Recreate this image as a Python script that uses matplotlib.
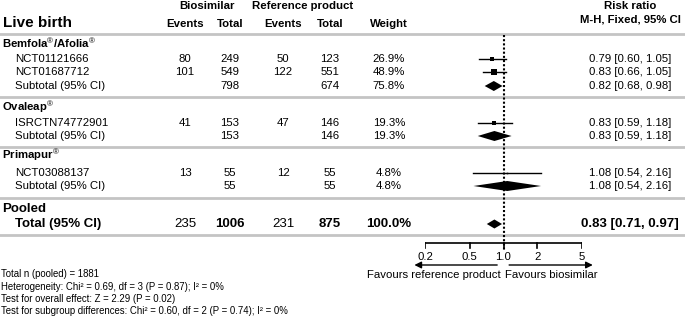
import matplotlib.pyplot as plt

plt.rcParams['font.family'] = ['Liberation Sans', 'DejaVu Sans']
plt.rcParams['mathtext.fontset'] = 'custom'
plt.rcParams['mathtext.rm'] = 'Liberation Sans'
plt.rcParams['mathtext.bf'] = 'Liberation Sans:bold'

# study level data
groups = ['Bemfola$^{®}$/Afolia$^{®}$', 'Ovaleap$^{®}$', 'Primapur$^{®}$']
studies = ['NCT01121666', 'NCT01687712', 'ISRCTN74772901', 'NCT03088137']
bio_events = [80, 101, 41, 13]
bio_total = [249, 549, 153, 55]
ref_events = [50, 122, 47, 12]
ref_total = [123, 551, 146, 55]
weights = [26.9, 48.9, 19.3, 4.8]
rr = [0.79, 0.83, 0.83, 1.08]
rr_lo = [0.60, 0.66, 0.59, 0.54]
rr_hi = [1.05, 1.05, 1.18, 2.16]

# subgroup totals
sub_bio_total = [798, 153, 55]
sub_ref_total = [674, 146, 55]
sub_weight = [75.8, 19.3, 4.8]
sub_rr = [0.82, 0.83, 1.08]
sub_lo = [0.68, 0.59, 0.54]
sub_hi = [0.98, 1.18, 2.16]

# pooled
pooled_counts = [235, 1006, 231, 875]
pooled_weight = 100.0
pooled_rr, pooled_lo, pooled_hi = 0.83, 0.71, 0.97

axis_ticks = [0.2, 0.5, 1, 2, 5]
axis_labels = ['0.2', '0.5', '1.0', '2', '5']

footer = ['Total n (pooled) = 1881',
          'Heterogeneity: Chi² = 0.69, df = 3 (P = 0.87); I² = 0%',
          'Test for overall effect: Z = 2.29 (P = 0.02)',
          'Test for subgroup differences: Chi² = 0.60, df = 2 (P = 0.74); I² = 0%']

# layout (pixel rows)
group_y = [43, 107, 155]
study_y = [59, 72, 123, 173]
sub_y = [86, 136, 186]
sep_y = [34, 97, 147, 198, 235]
col_x = [185, 230, 283, 330]
w_x, rr_x = 389, 630
fs = 8.2
big = 9.5

fig = plt.figure(figsize=(6.85, 3.18), dpi=100)
ax = fig.add_axes([0, 0, 1, 1])
ax.set_xlim(0, 685)
ax.set_ylim(318, 0)
ax.axis('off')

fx = fig.add_axes([425 / 685, 0, 157 / 685, 1])
fx.set_xscale('log')
fx.set_xlim(0.2, 5)
fx.set_ylim(318, 0)
fx.axis('off')

# header
ax.text(207, 6, 'Biosimilar', ha='center', va='center', fontsize=fs, fontweight='bold')
ax.text(303, 6, 'Reference product', ha='center', va='center', fontsize=fs, fontweight='bold')
ax.text(3, 23, 'Live birth', ha='left', va='center', fontsize=11, fontweight='bold')
for x, t in zip(col_x + [w_x], ['Events', 'Total', 'Events', 'Total', 'Weight']):
    ax.text(x, 24, t, ha='center', va='center', fontsize=fs, fontweight='bold')
ax.text(rr_x, 6, 'Risk ratio', ha='center', va='center', fontsize=fs, fontweight='bold')
ax.text(rr_x, 20, 'M-H, Fixed, 95% CI', ha='center', va='center', fontsize=fs, fontweight='bold')

for y in sep_y:
    ax.axhline(y, color='#c4c4c4', lw=2)

# groups
for i, g in enumerate(groups):
    ax.text(2, group_y[i], g, ha='left', va='center', fontsize=fs, fontweight='bold')
    y = sub_y[i]
    ax.text(15, y, 'Subtotal (95% CI)', ha='left', va='center', fontsize=fs)
    ax.text(col_x[1], y, str(sub_bio_total[i]), ha='center', va='center', fontsize=fs)
    ax.text(col_x[3], y, str(sub_ref_total[i]), ha='center', va='center', fontsize=fs)
    ax.text(w_x, y, f'{sub_weight[i]:.1f}%', ha='center', va='center', fontsize=fs)
    ax.text(rr_x, y, f'{sub_rr[i]:.2f} [{sub_lo[i]:.2f}, {sub_hi[i]:.2f}]',
            ha='center', va='center', fontsize=fs)
    fx.fill([sub_lo[i], sub_rr[i], sub_hi[i], sub_rr[i]], [y, y - 5, y, y + 5],
            color='k', lw=0)

# studies
for i, s in enumerate(studies):
    y = study_y[i]
    ax.text(15, y, s, ha='left', va='center', fontsize=fs)
    vals = [bio_events[i], bio_total[i], ref_events[i], ref_total[i]]
    for x, v in zip(col_x, vals):
        ax.text(x, y, str(v), ha='center', va='center', fontsize=fs)
    ax.text(w_x, y, f'{weights[i]:.1f}%', ha='center', va='center', fontsize=fs)
    ax.text(rr_x, y, f'{rr[i]:.2f} [{rr_lo[i]:.2f}, {rr_hi[i]:.2f}]',
            ha='center', va='center', fontsize=fs)
    fx.plot([rr_lo[i], rr_hi[i]], [y, y], color='k', lw=1)
    side = 1 + 0.12 * weights[i]
    fx.plot(rr[i], y, 's', color='k', ms=side / 1.389, mew=0)

# pooled
ax.text(2, 209, 'Pooled', ha='left', va='center', fontsize=big, fontweight='bold')
ax.text(15, 224, 'Total (95% CI)', ha='left', va='center', fontsize=big, fontweight='bold')
for j, (x, v) in enumerate(zip(col_x, pooled_counts)):
    ax.text(x, 224, str(v), ha='center', va='center', fontsize=big,
            fontweight='bold' if j % 2 else 'normal')
ax.text(w_x, 224, f'{pooled_weight:.1f}%', ha='center', va='center', fontsize=big, fontweight='bold')
ax.text(rr_x, 224, f'{pooled_rr:.2f} [{pooled_lo:.2f}, {pooled_hi:.2f}]',
        ha='center', va='center', fontsize=big, fontweight='bold')
fx.fill([pooled_lo, pooled_rr, pooled_hi, pooled_rr], [224, 219.5, 224, 228.5], color='k', lw=0)

# null line
fx.plot([1, 1], [35, 250], color='k', lw=1.5, ls=(0, (1, 1)))

# x axis
fx.plot([0.2, 5], [243, 243], color='k', lw=1.2, solid_capstyle='butt')
for t, lab in zip(axis_ticks, axis_labels):
    fx.plot([t, t], [243, 248], color='k', lw=1.2)
    fx.text(t, 257, lab, ha='center', va='center', fontsize=fs)

fx.annotate('', xy=(0.152, 265), xytext=(0.93, 265), annotation_clip=False,
            arrowprops=dict(arrowstyle='-|>', color='k', lw=1, mutation_scale=10))
fx.annotate('', xy=(6.6, 265), xytext=(1.06, 265), annotation_clip=False,
            arrowprops=dict(arrowstyle='-|>', color='k', lw=1, mutation_scale=10))
fx.text(0.95, 275, 'Favours reference product', ha='right', va='center', fontsize=fs)
fx.text(1.04, 275, 'Favours biosimilar', ha='left', va='center', fontsize=fs)

for k, line in enumerate(footer):
    ax.text(1, 274 + 12.5 * k, line, ha='left', va='center', fontsize=6.9)

fig.savefig('out.png', dpi=100)
